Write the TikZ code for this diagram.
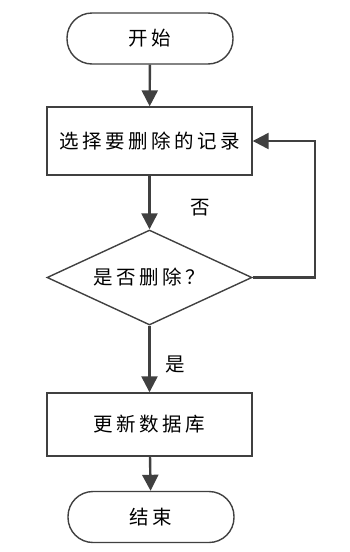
\documentclass[tikz,border=0pt]{standalone}
\usepackage{fontspec}
\usetikzlibrary{arrows.meta,shapes.geometric}
\newfontfamily\cjk[LetterSpace=18]{Noto Sans CJK SC}
\definecolor{line_gray}{RGB}{64,64,64}

\begin{document}
\begin{tikzpicture}[x=1pt, y=-1pt, font=\cjk\fontsize{19.5}{22}\selectfont,
    term/.style={draw=line_gray, line width=1.4pt, rounded corners=25pt,
      minimum width=166pt, minimum height=51pt},
    proc/.style={draw=line_gray, line width=1.4pt, minimum width=205pt},
    cond/.style={draw=line_gray, line width=1.4pt, diamond, aspect=4, inner sep=0pt,
      minimum width=205pt, minimum height=95pt},
    flow/.style={line_gray, line width=2.4pt, -{Triangle[length=16pt,width=16pt]}}]
        \useasboundingbox (0,0) rectangle (350,552);
        \node[term] (start) at (150,38.5) {开始};
        \node[proc, minimum height=68pt] (select) at (149.5,141) {选择要删除的记录};
        \node[cond] (ask) at (149.5,277.5) {是否删除？};
        \node[proc, minimum height=63pt] (update) at (149.5,424.5) {更新数据库};
        \node[term] (stop) at (151,517) {结束};
        \coordinate (loop) at (315,141);
        \draw[flow] (start) -- (select);
        \draw[flow] (select) -- (ask);
        \draw[flow] (ask.east) -| (loop) -- (select.east);
        \node (no) at (200,208) {否};
        \draw[flow] (ask) -- (update);
        \node (yes) at (175,364) {是};
        \draw[flow] (update) -- (stop);
\end{tikzpicture}
\end{document}
